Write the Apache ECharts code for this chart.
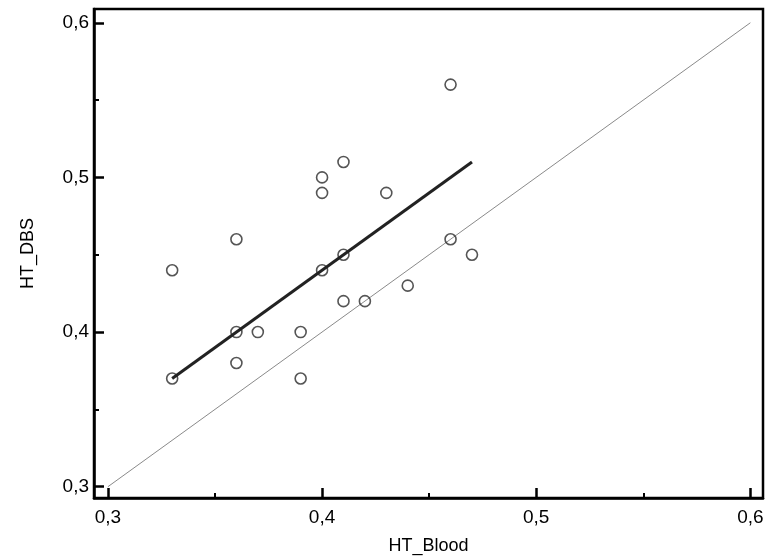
<!DOCTYPE html>
<html>
<head>
<meta charset="utf-8">
<script src="https://cdn.jsdelivr.net/npm/echarts@6/dist/echarts.min.js"></script>
<style>html,body{margin:0;padding:0;background:#fff;}#c{width:769px;height:560px;}</style>
</head>
<body>
<div id="c"></div>
<script>
// Data
var htBlood = [0.33, 0.33, 0.36, 0.36, 0.36, 0.37, 0.39, 0.39, 0.40, 0.40, 0.40, 0.41, 0.41, 0.41, 0.42, 0.43, 0.44, 0.46, 0.46, 0.47];
var htDBS   = [0.44, 0.37, 0.46, 0.40, 0.38, 0.40, 0.40, 0.37, 0.50, 0.49, 0.44, 0.51, 0.45, 0.42, 0.42, 0.49, 0.43, 0.56, 0.46, 0.45];
var identityLine = [[0.3, 0.3], [0.6, 0.6]];
var regressionLine = [[0.33, 0.37], [0.47, 0.51]];
var majorTicks = [0.3, 0.4, 0.5, 0.6];
var minorTicks = [0.35, 0.45, 0.55];
var xRange = [0.2935, 0.6059];
var yRange = [0.2927, 0.6089];

var points = htBlood.map(function (x, i) { return [x, htDBS[i]]; });
var fmt = function (v) { return v.toFixed(1).replace('.', ','); };
var FONT = '"Liberation Sans", Arial, sans-serif';

function majorAxis(isX, extra) {
  var o = {
    type: 'value',
    min: isX ? xRange[0] : yRange[0],
    max: isX ? xRange[1] : yRange[1],
    splitLine: { show: false },
    axisLine: { show: true, lineStyle: { color: '#000', width: 2.5 } },
    axisTick: { show: true, inside: true, length: 10, customValues: majorTicks, lineStyle: { color: '#000', width: 2.5 } },
    axisLabel: { show: true, customValues: majorTicks, formatter: fmt, color: '#000', fontSize: 19, fontFamily: FONT, margin: isX ? 10 : 5 }
  };
  for (var k in extra) o[k] = extra[k];
  return o;
}
function minorAxis(isX, pos) {
  return {
    type: 'value',
    position: pos,
    min: isX ? xRange[0] : yRange[0],
    max: isX ? xRange[1] : yRange[1],
    splitLine: { show: false },
    axisLine: { show: false },
    axisTick: { show: true, inside: true, length: 5, customValues: minorTicks, lineStyle: { color: '#000', width: 2 } },
    axisLabel: { show: false }
  };
}

var chart = echarts.init(document.getElementById('c'), null, { renderer: 'canvas' });
chart.setOption({
  animation: false,
  backgroundColor: '#fff',
  grid: { left: 94, right: 6, top: 9, bottom: 62, show: true, borderColor: '#000', borderWidth: 2.5, containLabel: false },
  xAxis: [
    majorAxis(true, { position: 'bottom', name: 'HT_Blood', nameLocation: 'middle', nameGap: 39,
      nameTextStyle: { color: '#000', fontSize: 18, fontFamily: FONT } }),
    minorAxis(true, 'bottom')
  ],
  yAxis: [
    majorAxis(false, { position: 'left', name: 'HT_DBS', nameLocation: 'middle', nameGap: 57,
      nameTextStyle: { color: '#000', fontSize: 18, fontFamily: FONT } }),
    minorAxis(false, 'left')
  ],
  series: [
    {
      type: 'line', data: identityLine, symbol: 'none', silent: true, z: 1,
      lineStyle: { color: '#8a8a8a', width: 1 }
    },
    {
      type: 'scatter', data: points, symbol: 'circle', symbolSize: 11, z: 2,
      itemStyle: { color: 'rgba(255,255,255,0)', borderColor: '#2a2a2a', borderWidth: 1.6 }
    },
    {
      type: 'line', data: regressionLine, symbol: 'none', silent: true, z: 3,
      lineStyle: { color: '#222', width: 3 }
    }
  ]
});
</script>
</body>
</html>
